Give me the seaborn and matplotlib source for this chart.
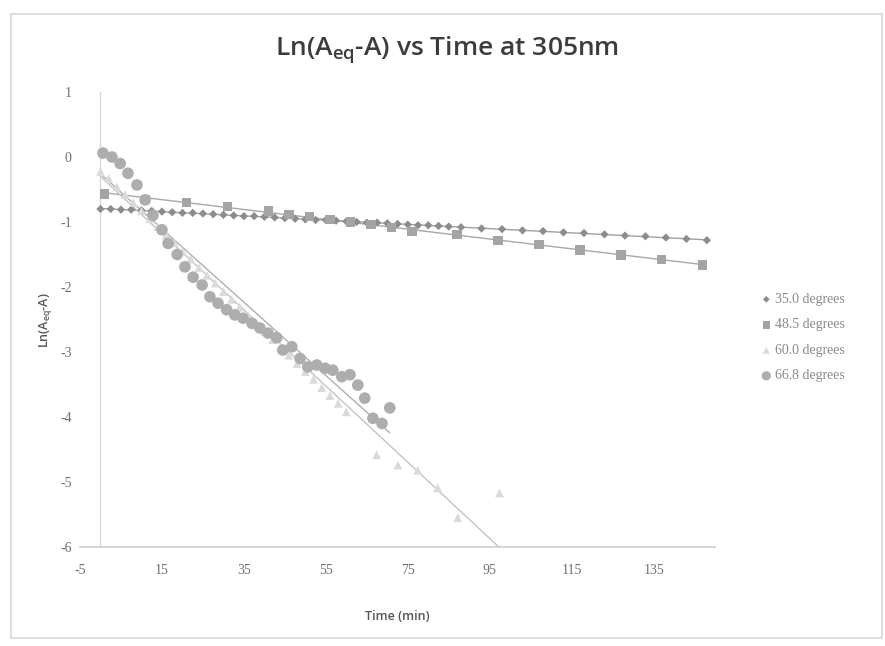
"""
Ln(Aeq-A) vs Time at 305nm
"""
import matplotlib
matplotlib.use("Agg")
import matplotlib.pyplot as plt
import numpy as np
import pandas as pd
import seaborn as sns
from matplotlib.patches import Rectangle

sns.set_theme(style="white")
plt.rcParams["font.family"] = ["Liberation Serif", "DejaVu Sans"]

# 35.0 degrees
t35 = [0, 2.5, 5, 7.5, 10, 12.5, 15, 17.5, 20, 22.5, 25, 27.5, 30, 32.5, 35, 37.5,
       40, 42.5, 45, 47.5, 50, 52.5, 55, 57.5, 60, 62.5, 65, 67.5, 70, 72.5, 75,
       77.5, 80, 82.5, 85, 88, 93, 98, 103, 108, 113, 118, 123, 128, 133, 138, 143, 148]
y35 = [-0.80, -0.80, -0.81, -0.81, -0.82, -0.83, -0.84, -0.85, -0.86, -0.86, -0.87,
       -0.88, -0.89, -0.90, -0.91, -0.91, -0.92, -0.93, -0.94, -0.95, -0.96, -0.97,
       -0.97, -0.98, -0.99, -1.00, -1.01, -1.01, -1.02, -1.03, -1.04, -1.05, -1.05,
       -1.06, -1.07, -1.08, -1.10, -1.11, -1.13, -1.14, -1.16, -1.17, -1.19, -1.21,
       -1.22, -1.24, -1.26, -1.28]

# 48.5 degrees
t48 = [1, 11, 21, 31, 41, 46, 51, 56, 61, 66, 71, 76, 87, 97, 107, 117, 127, 137, 147]
y48 = [-0.57, -0.65, -0.70, -0.76, -0.83, -0.88, -0.92, -0.96, -1.00, -1.04, -1.08,
       -1.15, -1.19, -1.28, -1.35, -1.43, -1.51, -1.58, -1.66]

# 60.0 degrees
t60 = [0, 2, 4, 6, 8, 10, 12, 14, 16, 18, 20, 22, 24, 26, 28, 30, 32, 34, 36, 38,
       40, 42, 44, 46, 48, 50, 52, 54, 56, 58, 60, 67.4, 72.6, 77.4, 82.3, 87.2, 97.4]
y60 = [-0.22, -0.33, -0.46, -0.58, -0.70, -0.83, -0.95, -1.07, -1.20, -1.32, -1.45,
       -1.57, -1.70, -1.82, -1.94, -2.07, -2.19, -2.31, -2.44, -2.56, -2.68, -2.81,
       -2.93, -3.05, -3.18, -3.30, -3.42, -3.55, -3.67, -3.79, -3.92, -4.58, -4.74,
       -4.82, -5.09, -5.55, -5.17]

# 66.8 degrees
t66 = [0.6, 2.8, 4.8, 6.7, 8.9, 10.9, 12.8, 15.0, 16.5, 18.7, 20.6, 22.6, 24.8, 26.7,
       28.7, 30.8, 32.8, 34.8, 37.0, 38.9, 40.9, 43.0, 44.5, 46.7, 48.7, 50.6, 52.8,
       54.8, 56.7, 58.9, 60.9, 62.8, 64.5, 66.5, 68.7, 70.6]
y66 = [0.06, 0.0, -0.10, -0.25, -0.43, -0.66, -0.90, -1.12, -1.33, -1.50, -1.69, -1.85,
       -1.97, -2.15, -2.25, -2.35, -2.43, -2.48, -2.56, -2.63, -2.71, -2.78, -2.97,
       -2.92, -3.10, -3.23, -3.20, -3.25, -3.28, -3.38, -3.35, -3.51, -3.71, -4.02,
       -4.10, -3.86]

labels = ["35.0 degrees", "48.5 degrees", "60.0 degrees", "66.8 degrees"]
xticks = [-5, 15, 35, 55, 75, 95, 115, 135]
yticks = [1, 0, -1, -2, -3, -4, -5, -6]

series = [(t35, y35), (t48, y48), (t60, y60), (t66, y66)]
markers = ["D", "s", "^", "o"]
sizes = [18, 45, 40, 70]
colors = ["#8c8c8c", "#a4a4a4", "#dadada", "#adadad"]
line_colors = ["#a0a0a0", "#a8a8a8", "#c4c4c4", "#b0b0b0"]

fig = plt.figure(figsize=(8.85, 6.46), dpi=100)
ax = fig.add_axes([0.0904, 0.1533, 0.7176, 0.7043])

for (t, y), lab, m, s, c, lc in zip(series, labels, markers, sizes, colors, line_colors):
    df = pd.DataFrame({"t": t, "y": y})
    sns.scatterplot(data=df, x="t", y="y", marker=m, s=s, color=c, edgecolor="none",
                    label=lab, ax=ax, zorder=3)
    # linear trendline over each series' own time range
    sns.regplot(data=df, x="t", y="y", scatter=False, ci=None, truncate=True,
                line_kws={"color": lc, "lw": 1.0, "zorder": 2}, ax=ax)

ax.set_xlim(-5, 150)
ax.set_ylim(-6, 1)
ax.set_xticks(xticks)
ax.set_yticks(yticks)
ax.set_xticklabels([str(v) for v in xticks])
ax.set_yticklabels([str(v) for v in yticks])
ax.tick_params(axis="both", labelsize=10, labelcolor="#707070", length=0, pad=6)
ax.tick_params(axis="x", pad=12)
ax.set_xlabel("")
ax.set_ylabel("")
for side in ["top", "right", "left"]:
    ax.spines[side].set_visible(False)
ax.spines["bottom"].set_color("#d0d0d0")
ax.axvline(0, color="#d8d8d8", lw=1.0, zorder=1)

leg = ax.legend(loc="center left", bbox_to_anchor=(1.05, 0.46), frameon=False,
                fontsize=10, handletextpad=0.1, labelspacing=0.9, markerscale=0.8,
                handlelength=1.0)
for txt in leg.get_texts():
    txt.set_color("#8a8a8a")

fig.text(0.505, 0.922, "Ln(A$_{\\mathregular{eq}}$-A) vs Time at 305nm",
         ha="center", va="center", fontsize=19, color="#3c3c3c",
         family=["Open Sans", "DejaVu Sans"], fontweight="semibold")
fig.text(0.449, 0.045, "Time (min)", ha="center", va="center", fontsize=9,
         color="#555555", family=["Open Sans", "DejaVu Sans"], fontweight="semibold")
fig.text(0.051, 0.505, "Ln(A$_{\\mathregular{eq}}$-A)", ha="center", va="center",
         fontsize=9, rotation=90, color="#555555",
         family=["Open Sans", "DejaVu Sans"], fontweight="semibold")

fig.patches.append(Rectangle((0.012, 0.012), 0.985, 0.966, transform=fig.transFigure,
                             fill=False, edgecolor="#d6d6d6", lw=1.2))

fig.savefig("out.png", dpi=100)
